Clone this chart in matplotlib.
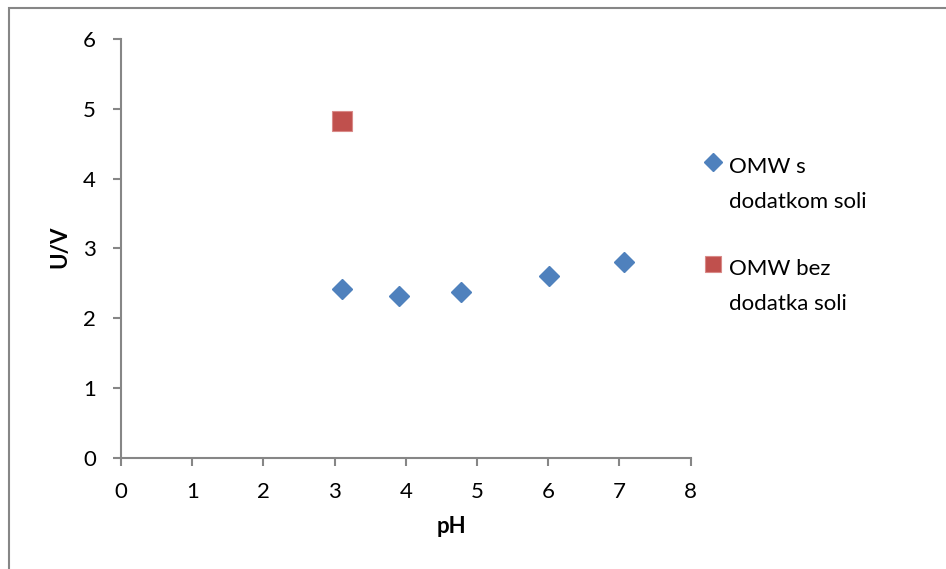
import numpy as np
import matplotlib
matplotlib.use("Agg")
import matplotlib.pyplot as plt
from matplotlib.legend_handler import HandlerLine2D
from matplotlib.patches  import Rectangle

# data
ph_salt   = [3.11, 3.91, 4.78, 6.01, 7.06]
u_salt    = [2.42, 2.31, 2.38, 2.60, 2.80]
ph_nosalt = [3.11]
u_nosalt  = [4.83]
series_labels = ["OMW s\ndodatkom soli", "OMW bez\ndodatka soli"]
x_ticks = [0, 1, 2, 3, 4, 5, 6, 7, 8]
y_ticks = [0, 1, 2, 3, 4, 5, 6]

BLUE = "#4F81BD"
RED  = "#C0504D"
GREY = "#868686"

plt.rcParams['font.family'] = ['Lato', 'DejaVu Sans']
FS = 16


class FirstLineHandler(HandlerLine2D):
    # put the legend marker next to the first line of a two-line label
    def __init__(self, shift, **kw):
        super().__init__(**kw)
        self.shift = shift

    def create_artists(self, legend, orig_handle, xdescent, ydescent,
                       width, height, fontsize, trans):
        arts = super().create_artists(legend, orig_handle, xdescent, ydescent,
                                      width, height, fontsize, trans)
        for a in arts:
            a.set_ydata(np.asarray(a.get_ydata(), float) + self.shift)
        return arts


W, H = 946, 569
fig = plt.figure(figsize=(W / 100, H / 100), dpi=100)
ax = fig.add_axes([121 / W, (H - 457.5) / H, 569.5 / W, 418.2 / H])

ax.plot(ph_salt, u_salt, linestyle="none", marker="D", markersize=10.2,
        color=BLUE, markeredgecolor=BLUE, label=series_labels[0])
ax.plot(ph_nosalt, u_nosalt, linestyle="none", marker="s", markersize=14.2,
        color=RED, markeredgecolor="#D98A88", markeredgewidth=0.8,
        label=series_labels[1])

ax.set_xlim(x_ticks[0], x_ticks[-1])
ax.set_ylim(y_ticks[0], y_ticks[-1])
ax.set_xticks(x_ticks)
ax.set_yticks(y_ticks)

for side in ["top", "right"]:
    ax.spines[side].set_visible(False)
for side in ["left", "bottom"]:
    ax.spines[side].set_color(GREY)
    ax.spines[side].set_linewidth(1.5)
ax.tick_params(direction="out", length=6, width=1.5, color=GREY,
               labelsize=FS, labelcolor="black", pad=12)

ax.set_xlabel("pH", fontsize=FS, fontweight="bold")
ax.xaxis.set_label_coords((451 - 121) / 569.5, -0.14)
ax.set_ylabel("U/V", fontsize=FS, fontweight="bold")
ax.yaxis.set_label_coords((70 - 121) / 569.5, 0.505)

shift = 23 * 0.72
leg = fig.legend(loc="upper left", bbox_to_anchor=(702.6 / W, 1 - 157 / H),
                 frameon=False, fontsize=FS, borderpad=0, borderaxespad=0,
                 handlelength=0.95, handletextpad=0.22, labelspacing=2.1,
                 markerscale=0.85,
                 handler_map={matplotlib.lines.Line2D: FirstLineHandler(shift)})
for t in leg.get_texts():
    t.set_linespacing(1.95)

# outer chart frame
fig.add_artist(Rectangle((9 / W, -0.5), 2, (1 - 8 / H) + 0.5,
                         transform=fig.transFigure, fill=False,
                         edgecolor=GREY, linewidth=1.5))

fig.savefig("out.png", dpi=100)
